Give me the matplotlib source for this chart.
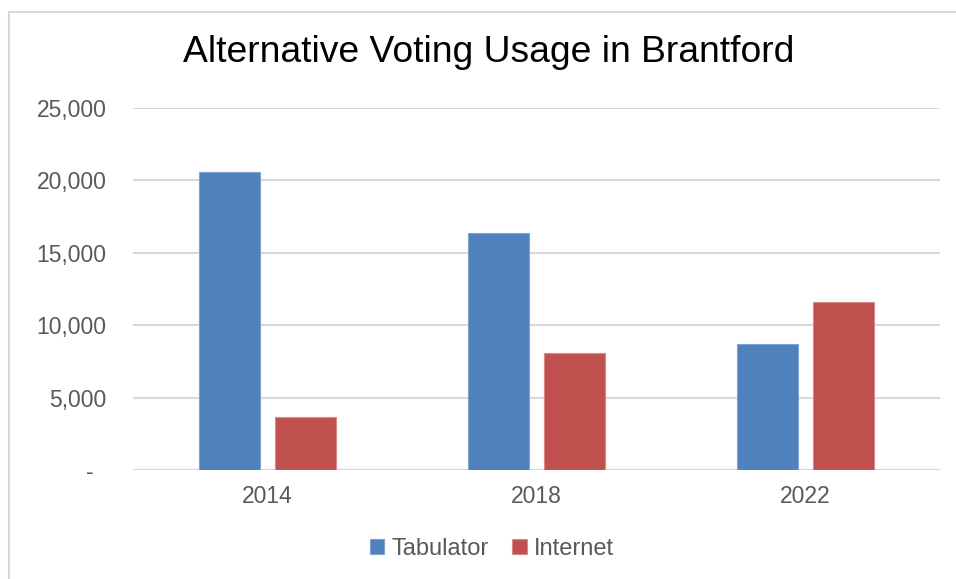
import numpy as np
import matplotlib.pyplot as plt
from matplotlib.patches import Rectangle
from matplotlib.ticker import FuncFormatter

plt.rcParams['font.family'] = ['Liberation Sans', 'DejaVu Sans']

years = ['2014', '2018', '2022']
tabulator = [20580, 16380, 8720]
internet = [3660, 8080, 11600]
yticks = [0, 5000, 10000, 15000, 20000, 25000]

BLUE = '#4F81BD'
RED = '#C0504D'
GREY = '#595959'

fig = plt.figure(figsize=(9.56, 5.79), dpi=100)
fig.patch.set_facecolor('white')
# outer chart frame, runs off the right and bottom edges like the reference
fig.patches.append(Rectangle((8.5 / 956, -0.1), 1.2, (579 - 11.5) / 579 + 0.1,
                             transform=fig.transFigure, fill=False,
                             edgecolor='#D9D9D9', linewidth=1.5))

ax = fig.add_axes([133 / 956, 1 - 470 / 579, (940 - 133) / 956, (470 - 108) / 579])
x = np.arange(len(years))
w = 0.227
off = 0.142
ax.bar(x - off, tabulator, w, color=BLUE, edgecolor='#7FA3D0', linewidth=0.8,
       label='Tabulator', zorder=3)
ax.bar(x + off, internet, w, color=RED, edgecolor='#D88A88', linewidth=0.8,
       label='Internet', zorder=3)

ax.set_xlim(-0.5, 2.5)
ax.set_ylim(0, 25000)
ax.set_yticks(yticks)
# accounting-style zero: a dash set in from the right
ax.yaxis.set_major_formatter(FuncFormatter(lambda v, p: '-  ' if v == 0 else f'{int(v):,}'))
ax.set_xticks(x)
ax.set_xticklabels(years)
ax.tick_params(axis='both', length=0, labelsize=16.5, colors=GREY)
ax.tick_params(axis='y', pad=19)
ax.tick_params(axis='x', pad=11)
ax.grid(axis='y', color='#D9D9D9', linewidth=1.5, zorder=0)
for s in ax.spines.values():
    s.set_visible(False)
ax.axhline(0, color='#D9D9D9', linewidth=1.5, zorder=1)

fig.text(489 / 956, 1 - 53 / 579, 'Alternative Voting Usage in Brantford',
         ha='center', va='center', fontsize=26.8, color='black')

fig.legend(loc='center', bbox_to_anchor=(492 / 956, 1 - 549 / 579), ncol=2,
           frameon=False, fontsize=17, labelcolor=GREY, handlelength=0.6,
           handleheight=0.6, handletextpad=0.3, columnspacing=1.0)

fig.savefig('out.png', dpi=100, facecolor='white')
